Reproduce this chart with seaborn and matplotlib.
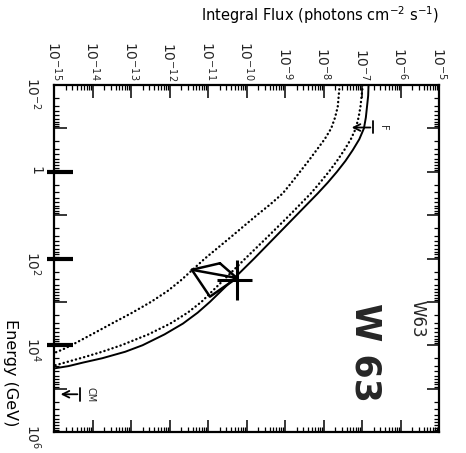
import numpy as np
import pandas as pd
import matplotlib
matplotlib.use("Agg")
import matplotlib.pyplot as plt
import matplotlib.transforms as mtransforms
from matplotlib.ticker import LogLocator, NullFormatter, FuncFormatter
import seaborn as sns

# ---- data (log10 values) ----
# model curves: log10 energy (GeV) and log10 integral flux (photons cm^-2 s^-1)
solid_log_energy = [-2, -1.75, -1.5, -1.25, -1, -0.75, -0.5, -0.25, 0, 0.25, 0.5, 1, 1.5,
                    2, 2.5, 3, 3.25, 3.5, 3.75, 4, 4.15, 4.3, 4.4, 4.48, 4.535]
solid_log_flux = [-6.83, -6.84, -6.87, -6.9, -6.95, -7.07, -7.24, -7.43, -7.65, -7.89,
                  -8.15, -8.7, -9.25, -9.8, -10.37, -10.95, -11.27, -11.65, -12.13, -12.7,
                  -13.15, -13.75, -14.25, -14.62, -15.0]
inner_log_energy = [-2, -1.5, -1.25, -1, -0.75, -0.5, -0.25, 0, 0.25, 0.5, 1, 1.5, 2, 2.5,
                    3, 3.25, 3.5, 3.75, 4, 4.15, 4.27, 4.37, 4.43, 4.47]
inner_log_flux = [-6.98, -7.04, -7.09, -7.16, -7.29, -7.46, -7.65, -7.86, -8.09, -8.33,
                  -8.88, -9.45, -10.03, -10.6, -11.17, -11.53, -11.98, -12.55, -13.25,
                  -13.75, -14.2, -14.6, -14.84, -15.0]
outer_log_energy = [-2, -1.5, -1.25, -1, -0.75, -0.5, -0.25, 0, 0.25, 0.5, 0.75, 1, 1.5, 2,
                    2.5, 2.75, 3, 3.25, 3.5, 3.75, 4, 4.1, 4.18]
outer_log_flux = [-7.58, -7.63, -7.7, -7.8, -7.97, -8.18, -8.39, -8.61, -8.83, -9.06, -9.38,
                  -9.73, -10.4, -11.08, -11.7, -12.05, -12.48, -12.97, -13.5, -14.02,
                  -14.55, -14.78, -15.0]

# upper limits
ul_labels = ["F", "CM"]
ul_log_energy = [-1.02, 5.13]
ul_log_energy_lo = [-1.17, 4.98]
ul_log_energy_hi = [-0.89, 5.28]
ul_log_flux = [-6.71, -14.32]
ul_log_flux_tip = [-7.34, -14.9]
ul_label_log_flux = [-6.45, -14.06]

# measured point (hand drawn cross) and its spectrum outline
pt_log_energy = [2.49]
pt_log_energy_lo = [2.03]
pt_log_energy_hi = [2.95]
pt_log_flux = [-10.25]
pt_log_flux_lo = [-10.77]
pt_log_flux_hi = [-9.86]
bow_log_flux = [-10.69, -11.42, -10.95, -10.25, -10.69]
bow_log_energy = [2.11, 2.26, 2.88, 2.45, 2.11]
bow_mid_log_flux = [-11.42, -10.25]
bow_mid_log_energy = [2.26, 2.45]

# hand marks on the energy axis
mark_energies = [1, 1e2, 1e4]

# ---- figure ----
sns.set_theme(style="white")
plt.rcParams["font.family"] = ["DejaVu Sans"]

fig = plt.figure(figsize=(4.66, 4.53), dpi=100)
ax = fig.add_axes([54 / 466, 1 - 432 / 453, 385 / 466, 347 / 453])

def to_df(le, lf):
    return pd.DataFrame({"energy": 10.0 ** np.array(le), "flux": 10.0 ** np.array(lf)})

dot = dict(linestyle=(0, (0.1, 1.7)), dash_capstyle="round", linewidth=1.7)
sns.lineplot(data=to_df(outer_log_energy, outer_log_flux), x="flux", y="energy",
             sort=False, estimator=None, color="black", ax=ax, **dot)
sns.lineplot(data=to_df(inner_log_energy, inner_log_flux), x="flux", y="energy",
             sort=False, estimator=None, color="black", ax=ax, **dot)
sns.lineplot(data=to_df(solid_log_energy, solid_log_flux), x="flux", y="energy",
             sort=False, estimator=None, color="black", linewidth=1.4, ax=ax)

# spectrum outline and cross
sns.lineplot(data=to_df(bow_log_energy, bow_log_flux), x="flux", y="energy",
             sort=False, estimator=None, color="black", linewidth=1.8, ax=ax)
sns.lineplot(data=to_df(bow_mid_log_energy, bow_mid_log_flux), x="flux", y="energy",
             sort=False, estimator=None, color="black", linewidth=1.8, ax=ax)
pe = 10.0 ** np.array(pt_log_energy)
pf = 10.0 ** np.array(pt_log_flux)
ax.errorbar(pf, pe,
            xerr=[pf - 10.0 ** np.array(pt_log_flux_lo), 10.0 ** np.array(pt_log_flux_hi) - pf],
            yerr=[pe - 10.0 ** np.array(pt_log_energy_lo), 10.0 ** np.array(pt_log_energy_hi) - pe],
            fmt="none", ecolor="black", elinewidth=2.2)

# upper limits
for lab, le, llo, lhi, lf, lt, llf in zip(ul_labels, ul_log_energy, ul_log_energy_lo,
                                          ul_log_energy_hi, ul_log_flux, ul_log_flux_tip,
                                          ul_label_log_flux):
    ax.plot([10 ** lf, 10 ** lf], [10 ** llo, 10 ** lhi], color="black", lw=1.3)
    ax.annotate("", xy=(10 ** lt, 10 ** le), xytext=(10 ** lf, 10 ** le),
                arrowprops=dict(arrowstyle="->", color="black", lw=1.3,
                                mutation_scale=12))
    ax.text(10 ** llf, 10 ** le, lab, rotation=-90, ha="center", va="center", fontsize=7)

# hand marks on the left axis
trans = mtransforms.blended_transform_factory(ax.transAxes, ax.transData)
for m in mark_energies:
    ax.plot([-0.018, 0.05], [m, m], transform=trans, color="black", lw=3.0,
            solid_capstyle="butt", clip_on=False)

ax.set_xscale("log")
ax.set_yscale("log")
ax.set_xlim(1e-15, 1e-5)
ax.set_ylim(1e6, 1e-2)

ax.xaxis.set_major_locator(LogLocator(base=10, numticks=20))
ax.xaxis.set_minor_locator(LogLocator(base=10, subs=np.arange(2, 10), numticks=200))
ax.yaxis.set_major_locator(LogLocator(base=10, numticks=20))
ax.yaxis.set_minor_locator(LogLocator(base=10, subs=np.arange(2, 10), numticks=200))
ax.xaxis.set_minor_formatter(NullFormatter())
ax.yaxis.set_minor_formatter(NullFormatter())

def energy_fmt(v, pos):
    n = int(round(np.log10(v)))
    if n % 2:
        return ""
    if n == 0:
        return "1"
    return r"$\mathregular{10^{%d}}$" % n

def flux_fmt(v, pos):
    n = int(round(np.log10(v)))
    return r"$\mathregular{10^{%d}}$" % n

ax.xaxis.set_major_formatter(FuncFormatter(flux_fmt))
ax.yaxis.set_major_formatter(FuncFormatter(energy_fmt))

ax.xaxis.tick_top()
ax.tick_params(which="both", direction="in", top=True, bottom=True, left=True, right=True,
               labeltop=True, labelbottom=False, labelleft=True, labelright=False,
               color="black")
ax.tick_params(which="major", length=9, width=1.1)
ax.tick_params(which="minor", length=3.5, width=0.9)
ax.tick_params(axis="x", which="major", labelrotation=-90, pad=3, labelsize=10)
ax.tick_params(axis="y", which="major", labelrotation=-90, pad=8, labelsize=10)

for s in ax.spines.values():
    s.set_color("black")
    s.set_linewidth(1.6)

ax.set_xlabel(r"Integral Flux (photons cm$^{-2}$ s$^{-1}$)", fontsize=10.5, color="black")
ax.xaxis.set_label_position("top")
ax.xaxis.label.set_va("center")
ax.xaxis.label.set_ha("right")
ax.xaxis.set_label_coords(1.0, 1.2)

ax.set_ylabel("Energy (GeV)", rotation=-90, fontsize=11.5, color="black")
ax.yaxis.label.set_va("center")
ax.yaxis.label.set_ha("center")
ax.yaxis.set_label_coords(-0.114, 0.17)

ax.text(0.945, 0.326, "W63", transform=ax.transAxes, rotation=-90, ha="center",
        va="center", fontsize=12)
ax.text(0.808, 0.23, "W 63", transform=ax.transAxes, rotation=-90, ha="center",
        va="center", fontsize=25, fontweight="bold")

fig.savefig("out.png", dpi=100, facecolor="white")
